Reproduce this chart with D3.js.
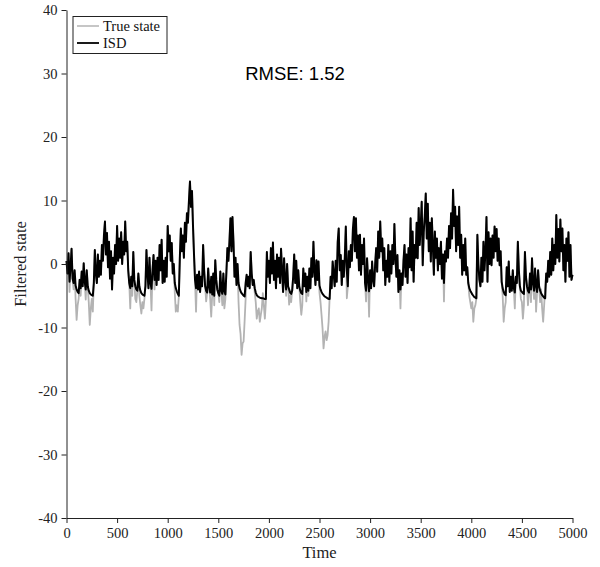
<!DOCTYPE html>
<html>
<head>
<meta charset="utf-8">
<script src="https://cdn.jsdelivr.net/npm/d3@7"></script>
<style>
  body { margin: 0; background: #fff; }
  .axis text { font-family: "Liberation Serif", "Times New Roman", serif; font-size: 14.5px; fill: #222; }
  .axis path, .axis line { stroke: #222; stroke-width: 1; }
</style>
</head>
<body>
<svg id="chart" width="600" height="567"></svg>
<script>
// Sampling interval of the stored series (time units)
const step = 10;

// True state, one value every `step` time units from 0 to 5000 (10 values per row = 100 time units)
const trueState = [
  0.5, -1.5, 1.7, -4.4, -0.5, 2.4, -2.3, -4.0, -1.0, -5.5,
  -8.8, -6.5, -5.5, -2.5, -5.0, -1.2, -3.5, 0.1, -2.8, -5.6,
  -1.0, -3.5, -6.0, -9.6, -7.0, -5.5, -7.5, -3.0, 2.2, -1.5,
  -3.0, 1.5, -2.0, 0.5, -1.7, 3.0, 0.5, 4.5, 6.7, 1.5,
  4.9, -0.5, 3.5, -2.3, 2.0, -4.0, 1.0, -1.5, 3.0, 0.0,
  6.0, 0.5, 4.0, 1.0, 5.0, 0.0, 3.5, 1.5, 6.7, 2.0,
  3.5, -1.0, -3.0, -7.0, -2.0, -5.0, 1.9, -2.5, -5.5, -6.0,
  -4.2, -1.5, -5.0, -6.5, -7.8, -6.0, -7.0, -5.5, -3.5, 2.2,
  -1.5, -3.8, 1.0, -3.0, -7.3, -1.0, 1.4, -4.0, 0.5, -3.3,
  1.0, -2.5, 3.0, -1.0, 3.8, -3.0, 0.5, -2.8, 1.0, -2.0,
  6.0, 2.0, 4.5, 0.5, 3.3, -1.5, 0.0, -4.5, -7.5, -6.5,
  -7.5, -5.0, 1.0, 5.6, 2.0, 4.5, 1.0, 6.5, 3.5, 8.0,
  6.5, 10.0, 13.0, 9.0, 11.5, 6.0, 1.5, -2.5, -7.5, -1.7,
  -4.0, -1.2, -4.4, -2.0, -3.5, 3.0, -1.0, -3.5, -5.9, -4.5,
  -0.7, -3.5, -5.5, -8.3, -4.8, -1.5, -6.5, 0.6, -2.5, -4.0,
  -4.6, -6.0, -1.2, -4.2, -6.5, -1.5, -7.0, -5.5, -1.3, 2.5,
  0.5, 3.5, 7.2, 2.0, 7.4, 3.5, -2.0, 1.0, -3.3, 0.0,
  -6.0, -9.6, -11.0, -14.3, -12.5, -12.2, -9.0, -5.5, -1.7, -3.5,
  -2.0, -3.8, 1.9, -1.5, -3.3, -2.5, -4.5, -6.0, -8.6, -7.5,
  -7.0, -9.1, -8.0, -7.0, -4.6, -6.5, -8.6, -6.0, 1.9, -2.0,
  0.5, -3.0, 2.5, -1.5, 3.4, -2.5, 0.5, -3.8, 1.5, -2.0,
  1.0, -3.0, 2.4, -1.0, -4.4, 0.9, -2.5, -5.0, 0.0, -3.5,
  -6.4, -5.0, -6.0, -4.2, -2.0, 1.5, -3.0, 0.5, -3.8, -1.0,
  -3.5, -6.0, -8.0, -6.5, -0.7, -3.5, -1.5, -5.9, -2.0, -5.0,
  -0.7, -3.8, 0.9, -2.0, 3.5, -1.0, -3.3, 0.6, -2.5, 0.4,
  -4.5, -6.0, -8.0, -10.1, -13.3, -11.5, -10.6, -12.0, -11.2, -9.1,
  -5.4, -2.0, -3.8, 0.4, -1.5, -3.5, 0.5, -2.8, 3.5, 5.6,
  -1.0, 1.4, -3.3, 0.5, -2.0, 1.0, 5.9, -5.4, -3.5, 2.0,
  -0.5, 3.0, 0.5, 5.5, 7.4, 2.0, 7.2, 1.0, 4.5, -1.0,
  4.6, -1.7, 3.0, 0.0, 4.0, -3.0, -5.9, 0.9, -2.5, -8.3,
  -1.0, -3.8, 0.4, -2.5, -3.5, 0.0, 2.5, -1.2, 5.1, 1.0,
  6.7, 2.0, 4.0, -1.0, 2.5, -3.3, 0.5, -2.0, 3.0, -2.8,
  2.0, -1.5, 3.0, 0.0, 6.3, 1.0, -2.0, 1.4, -4.4, -1.0,
  -7.0, -1.5, -3.3, 0.5, 3.0, -2.0, 1.5, -3.0, 2.5, -0.5,
  7.2, -1.0, 5.1, -2.8, 3.0, 1.0, 6.5, 0.9, 8.8, 3.0,
  6.0, 9.8, -0.2, 5.0, 7.5, 11.1, 4.0, 9.5, 2.0, 6.5,
  0.4, 7.2, 3.0, -1.7, 5.1, 1.0, 4.0, -1.0, 2.5, 0.0,
  3.5, -2.3, 1.5, -5.9, 2.0, 0.4, 4.0, 1.0, 6.0, 2.5,
  8.0, 4.0, 11.7, 6.0, 9.0, 2.0, 7.5, 3.0, 9.0, 1.0,
  4.6, -1.7, 3.0, -1.0, 4.0, -1.7, -0.5, -3.0, -5.0, -6.0,
  -7.0, -6.0, -9.1, -7.0, -6.5, -5.5, 4.6, 0.0, -2.5, -3.5,
  1.0, -2.8, 3.5, -1.0, 2.0, 7.4, -2.8, 5.0, 0.0, 4.0,
  -0.2, 4.5, 1.0, 5.9, 2.0, 5.5, 0.5, 4.0, -0.2, 2.0,
  -2.8, -5.0, -9.1, -7.0, -6.0, -0.5, -3.5, 0.4, -4.4, -2.0,
  -4.2, -1.0, -3.8, -7.0, -2.0, -3.0, 3.5, -1.0, -3.5, -5.5,
  -6.0, -8.6, -6.5, 1.9, -2.0, -3.5, -6.5, -4.5, -1.5, -6.0,
  0.9, -3.0, -5.5, -0.7, -7.5, -4.4, -1.0, -3.5, -6.0, -4.0,
  -7.0, -9.1, -6.5, -3.8, -1.5, -2.8, 0.5, -2.0, 1.9, -1.7,
  4.0, -1.0, 3.0, 0.0, 7.7, 1.0, 5.5, 0.4, 7.0, 2.0,
  5.6, -1.0, 3.0, -2.8, 4.0, 0.5, 5.0, -2.0, 3.0, -2.5,
  -1.7
];

// ISD filtered estimate on the same time grid
const isd = [
  0.5, -1.5, 1.7, -2.8, -0.5, 2.4, -2.3, -3.0, -1.0, -3.4,
  -4.0, -4.4, -4.6, -2.5, -3.8, -1.2, -3.5, 0.1, -2.8, -4.0,
  -1.0, -3.5, -4.2, -4.6, -4.8, -4.9, -5.0, -3.0, 2.2, -1.5,
  -3.0, 1.5, -2.0, 0.5, -1.7, 3.0, 0.5, 4.5, 6.7, 1.5,
  4.9, -0.5, 3.5, -2.3, 2.0, -4.0, 1.0, -1.5, 3.0, 0.0,
  6.0, 0.5, 4.0, 1.0, 5.0, 0.0, 3.5, 1.5, 6.7, 2.0,
  3.5, -1.0, -3.0, -3.8, -2.0, -3.5, 1.9, -2.5, -3.5, -4.0,
  -4.2, -1.5, -3.5, -4.2, -4.6, -4.8, -4.9, -5.0, -3.5, 2.2,
  -1.5, -3.8, 1.0, -3.0, -3.9, -1.0, 1.4, -2.5, 0.5, -3.3,
  1.0, -2.5, 3.0, -1.0, 3.8, -3.0, 0.5, -2.8, 1.0, -2.0,
  6.0, 2.0, 4.5, 0.5, 3.3, -1.5, 0.0, -3.0, -3.8, -4.3,
  -4.7, -5.0, 1.0, 5.6, 2.0, 4.5, 1.0, 6.5, 3.5, 8.0,
  6.5, 10.0, 13.0, 9.0, 11.5, 6.0, 1.5, -2.5, -3.8, -1.7,
  -4.0, -1.2, -4.4, -2.0, -3.5, 3.0, -1.0, -3.5, -4.2, -4.5,
  -0.7, -3.5, -4.5, -2.0, -4.8, -1.5, -5.0, 0.6, -2.5, -4.0,
  -4.6, -5.0, -1.2, -4.2, -4.7, -1.5, -4.3, -4.8, -1.3, 2.5,
  0.5, 3.5, 7.2, 2.0, 7.4, 3.5, -2.0, 1.0, -3.3, 0.0,
  -3.0, -3.8, -4.3, -4.6, -4.8, -5.0, -5.1, -3.0, -1.7, -3.5,
  -2.0, -3.8, 1.9, -1.5, -3.3, -2.5, -3.8, -4.5, -4.9, -5.1,
  -5.2, -5.3, -5.35, -5.4, -5.4, -5.45, -5.5, -5.5, 1.9, -2.0,
  0.5, -3.0, 2.5, -1.5, 3.4, -2.5, 0.5, -3.8, 1.5, -2.0,
  1.0, -3.0, 2.4, -1.0, -4.4, 0.9, -2.5, -4.0, 0.0, -3.5,
  -4.0, -4.5, -4.7, -4.2, -2.0, 1.5, -3.0, 0.5, -3.8, -1.0,
  -3.5, -4.2, -4.6, -4.7, -0.7, -3.5, -1.5, -4.4, -2.0, -4.2,
  -0.7, -3.8, 0.9, -2.0, 3.5, -1.0, -3.3, 0.6, -2.5, 0.4,
  -3.4, -4.0, -4.4, -4.7, -4.9, -5.1, -5.2, -5.3, -5.4, -5.5,
  -5.5, -2.0, -3.8, 0.4, -1.5, -3.5, 0.5, -2.8, 3.5, 5.6,
  -1.0, 1.4, -3.3, 0.5, -2.0, 1.0, 5.9, -1.0, -3.5, 2.0,
  -0.5, 3.0, 0.5, 5.5, 7.4, 2.0, 7.2, 1.0, 4.5, -1.0,
  4.6, -1.7, 3.0, 0.0, 4.0, -3.0, -4.2, 0.9, -2.5, -4.3,
  -1.0, -3.8, 0.4, -2.5, -3.5, 0.0, 2.5, -1.2, 5.1, 1.0,
  6.7, 2.0, 4.0, -1.0, 2.5, -3.3, 0.5, -2.0, 3.0, -2.8,
  2.0, -1.5, 3.0, 0.0, 6.3, 1.0, -2.0, 1.4, -4.4, -1.0,
  -4.0, -1.5, -3.3, 0.5, 3.0, -2.0, 1.5, -3.0, 2.5, -0.5,
  7.2, -1.0, 5.1, -2.8, 3.0, 1.0, 6.5, 0.9, 8.8, 3.0,
  6.0, 9.8, -0.2, 5.0, 7.5, 11.1, 4.0, 9.5, 2.0, 6.5,
  0.4, 7.2, 3.0, -1.7, 5.1, 1.0, 4.0, -1.0, 2.5, 0.0,
  3.5, -2.3, 1.5, -3.0, 2.0, 0.4, 4.0, 1.0, 6.0, 2.5,
  8.0, 4.0, 11.7, 6.0, 9.0, 2.0, 7.5, 3.0, 9.0, 1.0,
  4.6, -1.7, 3.0, -1.0, 4.0, -1.7, -0.5, -3.0, -3.8, -4.2,
  -4.5, -4.8, -5.0, -5.2, -5.3, -5.4, 4.6, 0.0, -2.5, -3.5,
  1.0, -2.8, 3.5, -1.0, 2.0, 7.4, -2.8, 5.0, 0.0, 4.0,
  -0.2, 4.5, 1.0, 5.9, 2.0, 5.5, 0.5, 4.0, -0.2, 2.0,
  -2.8, -3.8, -4.4, -4.8, -4.9, -0.5, -3.5, 0.4, -4.4, -2.0,
  -4.2, -1.0, -3.8, -4.5, -2.0, -3.0, 3.5, -1.0, -3.5, -4.2,
  -4.4, -4.6, -4.7, 1.9, -2.0, -3.5, -4.2, -4.5, -1.5, -4.0,
  0.9, -3.0, -4.2, -0.7, -3.5, -4.4, -1.0, -3.5, -4.2, -4.6,
  -4.9, -5.1, -5.3, -5.4, -1.5, -2.8, 0.5, -2.0, 1.9, -1.7,
  4.0, -1.0, 3.0, 0.0, 7.7, 1.0, 5.5, 0.4, 7.0, 2.0,
  5.6, -1.0, 3.0, -2.8, 4.0, 0.5, 5.0, -2.0, 3.0, -2.5,
  -1.7
];

const xTicks = [0, 500, 1000, 1500, 2000, 2500, 3000, 3500, 4000, 4500, 5000];
const yTicks = [-40, -30, -20, -10, 0, 10, 20, 30, 40];
const seriesNames = ["True state", "ISD"];
const seriesColors = ["#b3b3b3", "#000000"];
const rmseText = "RMSE: 1.52";

const svg = d3.select("#chart");
const m = { left: 66.5, right: 572.5, top: 10, bottom: 518 };

const x = d3.scaleLinear().domain([0, 5000]).range([m.left, m.right]);
const y = d3.scaleLinear().domain([-40, 40]).range([m.bottom, m.top]);

const line = d3.line()
  .x((d, i) => x(i * step))
  .y(d => y(d));

// Series: true state underneath, filter estimate on top
svg.append("path")
  .datum(trueState)
  .attr("d", line)
  .attr("fill", "none")
  .attr("stroke", seriesColors[0])
  .attr("stroke-width", 1.8)
  .attr("stroke-linejoin", "round");

svg.append("path")
  .datum(isd)
  .attr("d", line)
  .attr("fill", "none")
  .attr("stroke", seriesColors[1])
  .attr("stroke-width", 2)
  .attr("stroke-linejoin", "round");

// Axes (plain integer labels with ASCII hyphen for negatives)
const fmt = d => String(d);

svg.append("g")
  .attr("class", "axis")
  .attr("transform", `translate(0,${m.bottom})`)
  .call(d3.axisBottom(x).tickValues(xTicks).tickFormat(fmt).tickSize(5).tickPadding(5).tickSizeOuter(0));

svg.append("g")
  .attr("class", "axis")
  .attr("transform", `translate(${m.left},0)`)
  .call(d3.axisLeft(y).tickValues(yTicks).tickFormat(fmt).tickSize(5).tickPadding(4).tickSizeOuter(0));

// Axis titles
svg.append("text")
  .attr("x", (m.left + m.right) / 2)
  .attr("y", 558)
  .attr("text-anchor", "middle")
  .style("font-family", "'Liberation Serif', serif")
  .style("font-size", "16.5px")
  .attr("fill", "#222")
  .text("Time");

svg.append("text")
  .attr("transform", `translate(26,${(m.top + m.bottom) / 2}) rotate(-90)`)
  .attr("text-anchor", "middle")
  .style("font-family", "'Liberation Serif', serif")
  .style("font-size", "16.5px")
  .attr("fill", "#222")
  .text("Filtered state");

// RMSE annotation
svg.append("text")
  .attr("x", 295)
  .attr("y", 80)
  .attr("text-anchor", "middle")
  .style("font-family", "'Liberation Sans', Arial, sans-serif")
  .style("font-size", "18.5px")
  .attr("fill", "#000")
  .text(rmseText);

// Legend
const lg = svg.append("g").attr("transform", "translate(73,16.5)");
lg.append("rect")
  .attr("width", 94).attr("height", 37)
  .attr("fill", "#fff").attr("stroke", "#222").attr("stroke-width", 1);
seriesNames.forEach((name, i) => {
  const yy = 9.5 + i * 17;
  lg.append("line")
    .attr("x1", 4).attr("x2", 26).attr("y1", yy).attr("y2", yy)
    .attr("stroke", seriesColors[i]).attr("stroke-width", i === 0 ? 1.5 : 1.8);
  lg.append("text")
    .attr("x", 30).attr("y", yy + 4.5)
    .style("font-family", "'Liberation Serif', serif")
    .style("font-size", "14.5px")
    .attr("fill", "#111")
    .text(name);
});
</script>
</body>
</html>
